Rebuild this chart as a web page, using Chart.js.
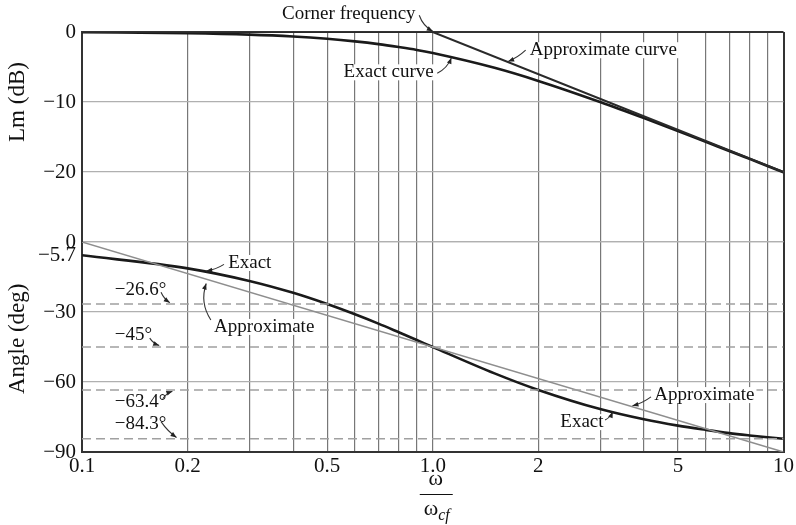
<!DOCTYPE html>
<html>
<head>
<meta charset="utf-8">
<script src="https://cdn.jsdelivr.net/npm/chart.js@4/dist/chart.umd.min.js"></script>
<style>
html,body{margin:0;padding:0;background:#fff;}
canvas{display:block;}
</style>
</head>
<body>
<canvas id="c" width="796" height="525"></canvas>
<script>
// ---- data ----
const freq = [0.1,0.2,0.3,0.4,0.5,0.6,0.7,0.8,0.9,1,1.5,2,3,4,5,6,7,8,9,10];
const magExact = [-0.04,-0.17,-0.37,-0.64,-0.97,-1.34,-1.73,-2.15,-2.56,-3.01,-5.12,-6.99,-10.0,-12.3,-14.15,-15.7,-16.99,-18.13,-19.14,-20.04];
const magApproxFreq = [0.1, 1, 10];
const magApprox = [0, 0, -20];
const angExact = [-5.7,-11.3,-16.7,-21.8,-26.6,-31.0,-35.0,-38.7,-42.0,-45.0,-56.3,-63.4,-71.6,-76.0,-78.7,-80.5,-81.9,-82.9,-83.7,-84.3];
const angApproxFreq = [0.1, 10];
const angApprox = [0, -90];
const angRefLines = [-26.6, -45, -63.4, -84.3];

const xGridValues = [0.1,0.2,0.3,0.4,0.5,0.6,0.7,0.8,0.9,1,2,3,4,5,6,7,8,9,10];
const xTickValues = [0.1,0.2,0.5,1,2,5,10];
const xTickLabels = ['0.1','0.2','0.5','1.0','2','5','10'];
const magTickValues = [0,-10,-20,-30];
const magTickLabels = ['0','\u221210','\u221220',''];
const angTickValues = [0,-5.7,-30,-60,-90];
const angTickLabels = ['0','\u22125.7','\u221230','\u221260','\u221290'];

// annotation texts with anchor (data coords) and leader line (data coords)
const annotations = [
  {text:'Corner frequency', axis:'yMag', x:0.372, y:2.6,  from:[0.915,2.4],  to:[1.0,0.1],   bend:4},
  {text:'Approximate curve', axis:'yMag', x:1.89, y:-2.6, from:[1.84,-2.6],  to:[1.64,-4.2],  bend:-2},
  {text:'Exact curve',      axis:'yMag', x:0.557, y:-5.76,from:[1.03,-5.9],  to:[1.13,-3.7],  bend:4},
  {text:'Exact',            axis:'yAng', x:0.261, y:-9.0, from:[0.254,-9.6], to:[0.226,-12.4],bend:-2},
  {text:'Approximate',      axis:'yAng', x:0.238, y:-36.4,from:[0.233,-33.4],to:[0.226,-17.8],bend:-9},
  {text:'\u221226.6\u00b0', axis:'yAng', x:0.124, y:-20.6,from:[0.168,-21.5],to:[0.178,-26.0],bend:2},
  {text:'\u221245\u00b0',   axis:'yAng', x:0.124, y:-39.9,from:[0.156,-41.2],to:[0.166,-44.4],bend:2},
  {text:'\u221263.4\u00b0', axis:'yAng', x:0.124, y:-68.6,from:[0.170,-67.2],to:[0.181,-64.0],bend:-2},
  {text:'\u221284.3\u00b0', axis:'yAng', x:0.124, y:-78.0,from:[0.168,-77.0],to:[0.186,-83.8],bend:2},
  {text:'Approximate',      axis:'yAng', x:4.28, y:-65.6, from:[4.19,-66.4], to:[3.71,-70.2], bend:-2},
  {text:'Exact',            axis:'yAng', x:2.31, y:-77.2, from:[3.10,-76.3], to:[3.26,-72.8], bend:2}
];

const SERIF = '"Liberation Serif", "DejaVu Serif", serif';
const pts = (xs, ys) => xs.map((v, i) => ({x: v, y: ys[i]}));

const annotationPlugin = {
  id: 'bodeAnnotations',
  afterDatasetsDraw(chart) {
    const ctx = chart.ctx;
    const xs = chart.scales.x;
    ctx.save();
    ctx.font = '19px ' + SERIF;
    ctx.textBaseline = 'middle';
    ctx.textAlign = 'left';
    annotations.forEach(a => {
      const ys = chart.scales[a.axis];
      const px = xs.getPixelForValue(a.x), py = ys.getPixelForValue(a.y);
      const w = ctx.measureText(a.text).width;
      ctx.fillStyle = '#fff';
      ctx.fillRect(px - 2, py - 8, w + 4, 16);
      ctx.fillStyle = '#111';
      ctx.fillText(a.text, px, py);
      // leader
      const x1 = xs.getPixelForValue(a.from[0]), y1 = ys.getPixelForValue(a.from[1]);
      const x2 = xs.getPixelForValue(a.to[0]),   y2 = ys.getPixelForValue(a.to[1]);
      const mx = (x1 + x2) / 2, my = (y1 + y2) / 2;
      const dx = x2 - x1, dy = y2 - y1, len = Math.hypot(dx, dy) || 1;
      const cx = mx - dy / len * a.bend, cy = my + dx / len * a.bend;
      ctx.strokeStyle = '#333';
      ctx.lineWidth = 1.1;
      ctx.beginPath();
      ctx.moveTo(x1, y1);
      ctx.quadraticCurveTo(cx, cy, x2, y2);
      ctx.stroke();
      const ang = Math.atan2(y2 - cy, x2 - cx);
      ctx.fillStyle = '#222';
      ctx.beginPath();
      ctx.moveTo(x2, y2);
      ctx.lineTo(x2 - 6 * Math.cos(ang) + 2.4 * Math.sin(ang), y2 - 6 * Math.sin(ang) - 2.4 * Math.cos(ang));
      ctx.lineTo(x2 - 6 * Math.cos(ang) - 2.4 * Math.sin(ang), y2 - 6 * Math.sin(ang) + 2.4 * Math.cos(ang));
      ctx.closePath();
      ctx.fill();
    });

    // axis titles
    ctx.fillStyle = '#111';
    ctx.font = '23px ' + SERIF;
    ctx.textAlign = 'center';
    ctx.textBaseline = 'middle';
    const yMag = chart.scales.yMag, yAng = chart.scales.yAng;
    [['Lm (dB)', yMag.getPixelForValue(-10)], ['Angle (deg)', yAng.getPixelForValue(-41.5)]].forEach(([t, y]) => {
      ctx.save();
      ctx.translate(18, y);
      ctx.rotate(-Math.PI / 2);
      ctx.fillText(t, 0, 0);
      ctx.restore();
    });

    // x title as a fraction  ω / ω_cf
    const xc = xs.getPixelForValue(1) + 3;
    ctx.textBaseline = 'alphabetic';
    ctx.font = '22px ' + SERIF;
    ctx.fillText('\u03c9', xc, 485);
    ctx.strokeStyle = '#111';
    ctx.lineWidth = 1.2;
    ctx.beginPath();
    ctx.moveTo(xc - 16, 494.5);
    ctx.lineTo(xc + 17, 494.5);
    ctx.stroke();
    ctx.textAlign = 'left';
    const ww = ctx.measureText('\u03c9').width;
    ctx.fillText('\u03c9', xc - 12, 515);
    ctx.font = 'italic 16px ' + SERIF;
    ctx.fillText('cf', xc - 12 + ww, 520);
    ctx.restore();
  }
};

const gridColor = '#777';
const hColor = '#b0b0b0';
const dark = '#333';

new Chart(document.getElementById('c'), {
  type: 'line',
  data: {
    datasets: [
      ...angRefLines.map(v => ({
        label: 'ref ' + v, yAxisID: 'yAng',
        data: pts([0.1, 10], [v, v]),
        borderColor: '#a0a0a0', borderWidth: 1.6, borderDash: [9, 5], pointRadius: 0
      })),
      {label: 'Lm approximate', yAxisID: 'yMag', data: pts(magApproxFreq, magApprox),
       borderColor: '#2a2a2a', borderWidth: 2, pointRadius: 0},
      {label: 'Lm exact', yAxisID: 'yMag', data: pts(freq, magExact),
       borderColor: '#1a1a1a', borderWidth: 2.6, pointRadius: 0, cubicInterpolationMode: 'monotone'},
      {label: 'Angle approximate', yAxisID: 'yAng', data: pts(angApproxFreq, angApprox),
       borderColor: '#8e8e8e', borderWidth: 1.5, pointRadius: 0},
      {label: 'Angle exact', yAxisID: 'yAng', data: pts(freq, angExact),
       borderColor: '#1a1a1a', borderWidth: 2.6, pointRadius: 0, cubicInterpolationMode: 'monotone'}
    ]
  },
  options: {
    responsive: false,
    animation: false,
    devicePixelRatio: 1,
    layout: {padding: {left: 0, right: 9, top: 32, bottom: 0}},
    plugins: {legend: {display: false}, tooltip: {enabled: false}},
    scales: {
      x: {
        type: 'logarithmic', position: 'bottom', min: 0.1, max: 10,
        afterBuildTicks: s => { s.ticks = xGridValues.map(v => ({value: v})); },
        afterFit: s => { s.height = 73; },
        ticks: {
          autoSkip: false, maxRotation: 0, minRotation: 0, padding: 2, color: '#111',
          font: {family: SERIF, size: 21},
          callback: v => { const i = xTickValues.indexOf(v); return i < 0 ? '' : xTickLabels[i]; }
        },
        grid: {
          drawTicks: false,
          color: c => (c.tick && (c.tick.value === 10 || c.tick.value === 0.1)) ? dark : gridColor,
          lineWidth: c => (c.tick && (c.tick.value === 10 || c.tick.value === 0.1)) ? 2 : 1.2
        },
        border: {display: true, color: dark, width: 2}
      },
      yAng: {
        type: 'linear', position: 'left', stack: 'bode', stackWeight: 1, min: -90, max: 0,
        afterBuildTicks: s => { s.ticks = angTickValues.map(v => ({value: v})); },
        afterFit: s => { s.width = 82; },
        ticks: {
          autoSkip: false, padding: 6, color: '#111', font: {family: SERIF, size: 21},
          callback: v => { const i = angTickValues.indexOf(v); return i < 0 ? '' : angTickLabels[i]; }
        },
        grid: {
          drawTicks: false,
          color: c => {
            if (!c.tick) return hColor;
            if (c.tick.value === -5.7) return 'rgba(0,0,0,0)';
            if (c.tick.value === -90) return dark;
            return hColor;
          },
          lineWidth: c => (c.tick && c.tick.value === -90) ? 2 : 1.3
        },
        border: {display: true, color: dark, width: 2}
      },
      yMag: {
        type: 'linear', position: 'left', stack: 'bode', stackWeight: 1, min: -30, max: 0,
        afterBuildTicks: s => { s.ticks = magTickValues.map(v => ({value: v})); },
        afterFit: s => { s.width = 82; },
        ticks: {
          autoSkip: false, padding: 6, color: '#111', font: {family: SERIF, size: 21},
          callback: v => { const i = magTickValues.indexOf(v); return i < 0 ? '' : magTickLabels[i]; }
        },
        grid: {
          drawTicks: false,
          color: c => (c.tick && c.tick.value === 0) ? dark : hColor,
          lineWidth: c => (c.tick && c.tick.value === 0) ? 2 : 1.3
        },
        border: {display: true, color: dark, width: 2}
      }
    }
  },
  plugins: [annotationPlugin]
});
</script>
</body>
</html>
